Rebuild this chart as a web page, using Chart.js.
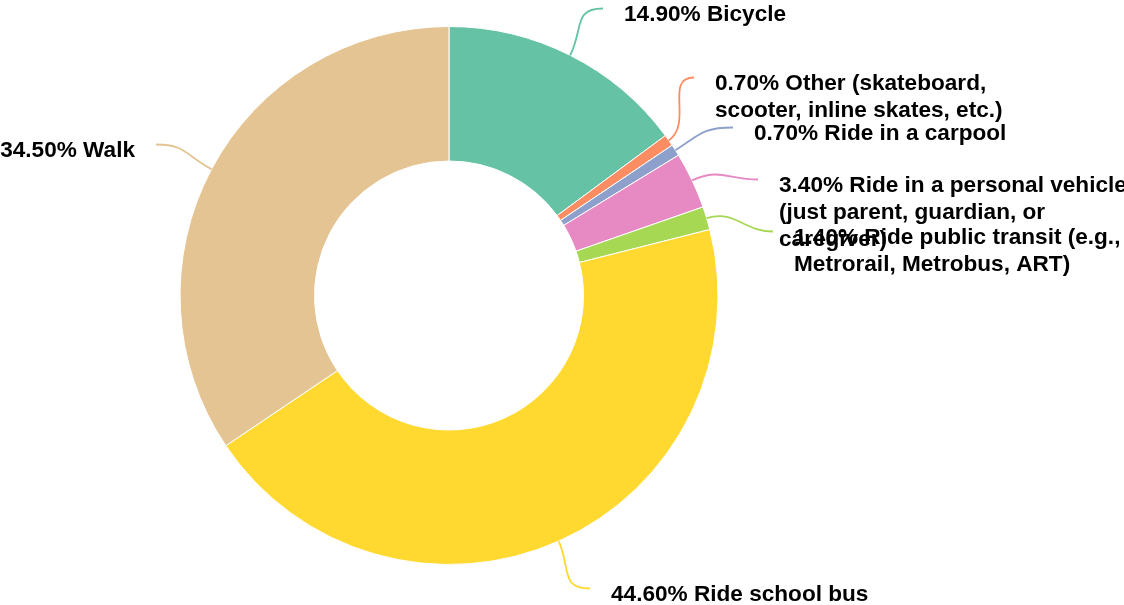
<!DOCTYPE html>
<html>
<head>
<meta charset="utf-8">
<script src="https://cdn.jsdelivr.net/npm/chart.js@4.4.1/dist/chart.umd.min.js"></script>
<style>
  html, body { margin: 0; padding: 0; background: #fff; }
  #wrap { width: 1124px; height: 605px; }
</style>
</head>
<body>
<div id="wrap"><canvas id="chart" width="1124" height="605"></canvas></div>
<script>
// data (percent)
const categories = [
  'Bicycle',
  'Other (skateboard, scooter, inline skates, etc.)',
  'Ride in a carpool',
  'Ride in a personal vehicle (just parent, guardian, or caregiver)',
  'Ride public transit (e.g., Metrorail, Metrobus, ART)',
  'Ride school bus',
  'Walk'
];
const shares = [14.9, 0.7, 0.7, 3.4, 1.4, 44.6, 34.5];
const colors = ['#66c2a5', '#fc8d62', '#8da0cb', '#e78ac3', '#a6d854', '#ffd92f', '#e5c494'];

// where each leader line ends, relative to the donut centre (layout only)
const labelEnds = [[154, -287], [245, -218], [284, -168], [309, -116], [324, -64], [141, 293], [-293, -151]];

const FONT = 'bold 22.6px "Liberation Sans", Arial, sans-serif';

function wrapText(ctx, text, maxW) {
  const words = text.split(' ');
  const lines = [];
  let cur = '';
  words.forEach(w => {
    const test = cur ? cur + ' ' + w : w;
    if (ctx.measureText(test).width > maxW && cur) {
      lines.push(cur);
      cur = w;
    } else {
      cur = test;
    }
  });
  if (cur) lines.push(cur);
  return lines;
}

const leaderLabels = {
  id: 'leaderLabels',
  afterDatasetsDraw(chart) {
    const ctx = chart.ctx;
    const meta = chart.getDatasetMeta(0);
    ctx.save();
    ctx.font = FONT;
    meta.data.forEach((arc, i) => {
      const p = arc.getProps(['x', 'y', 'startAngle', 'endAngle', 'outerRadius']);
      const mid = (p.startAngle + p.endAngle) / 2;
      const dx = Math.cos(mid), dy = Math.sin(mid);
      const sx = p.x + dx * p.outerRadius;
      const sy = p.y + dy * p.outerRadius;
      const ex = p.x + labelEnds[i][0];
      const ey = p.y + labelEnds[i][1];
      const right = ex > p.x;
      const k = 30;

      ctx.beginPath();
      ctx.moveTo(sx, sy);
      ctx.bezierCurveTo(sx + dx * k, sy + dy * k, ex + (right ? -k : k), ey, ex, ey);
      ctx.strokeStyle = colors[i];
      ctx.lineWidth = 1.8;
      ctx.stroke();

      const text = shares[i].toFixed(2) + '% ' + categories[i];
      const lines = wrapText(ctx, text, 360);
      ctx.fillStyle = '#000';
      ctx.textAlign = right ? 'left' : 'right';
      ctx.textBaseline = 'alphabetic';
      lines.forEach((ln, j) => {
        ctx.fillText(ln, ex + (right ? 21 : -21), ey + 12 + j * 27);
      });
    });
    ctx.restore();
  }
};

new Chart(document.getElementById('chart'), {
  type: 'doughnut',
  data: {
    labels: categories,
    datasets: [{
      data: shares,
      backgroundColor: colors,
      borderColor: '#fff',
      borderWidth: 1
    }]
  },
  options: {
    responsive: false,
    animation: false,
    cutout: '50%',
    layout: { padding: { left: 179, right: 405, top: 26, bottom: 40 } },
    plugins: {
      legend: { display: false },
      tooltip: { enabled: false }
    },
    events: []
  },
  plugins: [leaderLabels]
});
</script>
</body>
</html>
